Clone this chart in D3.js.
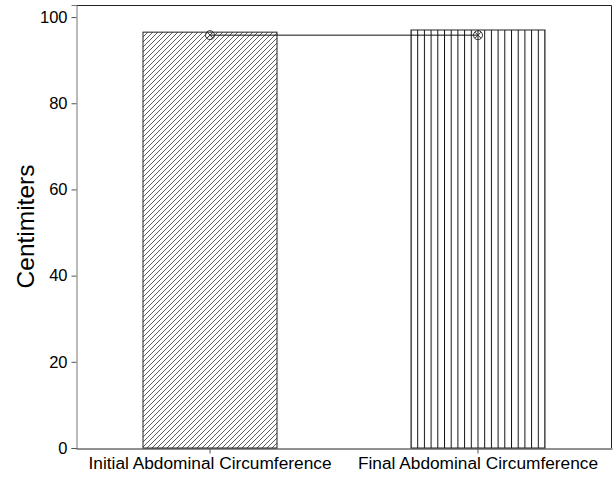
<!DOCTYPE html>
<html>
<head>
<meta charset="utf-8">
<script src="https://cdn.jsdelivr.net/npm/d3@7"></script>
<style>
  body { margin: 0; background: #fff; }
  text { font-family: "Liberation Sans", Arial, sans-serif; }
</style>
</head>
<body>
<svg id="chart"></svg>
<script>
// Chart values
const categories = ["Initial Abdominal Circumference", "Final Abdominal Circumference"];
const barValues = [96.5, 97.0];
const meanValues = [95.8, 95.8];
const yTicks = [0, 20, 40, 60, 80, 100];
const yLabel = "Centimiters";

const width = 614;
const height = 477;
const margin = { top: 5, right: 2, bottom: 29, left: 76 };

const svg = d3.select("#chart")
    .attr("width", width)
    .attr("height", height);

// Hatch patterns
const defs = svg.append("defs");
defs.append("pattern")
    .attr("id", "diag")
    .attr("patternUnits", "userSpaceOnUse")
    .attr("width", 5)
    .attr("height", 5)
  .append("path")
    .attr("d", "M-1,1 L1,-1 M0,5 L5,0 M4,6 L6,4")
    .attr("stroke", "#333")
    .attr("stroke-width", 0.8);

defs.append("pattern")
    .attr("id", "vert")
    .attr("patternUnits", "userSpaceOnUse")
    .attr("x", 410.5)
    .attr("width", 6.7)
    .attr("height", 10)
  .append("line")
    .attr("x1", 0.5).attr("x2", 0.5)
    .attr("y1", 0).attr("y2", 10)
    .attr("stroke", "#111")
    .attr("stroke-width", 1);

const x = d3.scaleBand()
    .domain(categories)
    .range([margin.left, width - margin.right])
    .paddingInner(0.5)
    .paddingOuter(0.25);

const y = d3.scaleLinear()
    .domain([0, 102.8])
    .range([height - margin.bottom, margin.top]);

// Bars
svg.selectAll("rect.bar")
    .data(categories)
    .enter()
    .append("rect")
    .attr("class", "bar")
    .attr("x", d => x(d))
    .attr("y", (d, i) => y(barValues[i]))
    .attr("width", x.bandwidth())
    .attr("height", (d, i) => y(0) - y(barValues[i]))
    .attr("fill", (d, i) => i === 0 ? "url(#diag)" : "url(#vert)")
    .attr("stroke", "#222")
    .attr("stroke-width", 1);

// Frame (top and right)
svg.append("path")
    .attr("d", `M${margin.left},${margin.top + 0.5} H${width - margin.right - 0.5} V${height - margin.bottom}`)
    .attr("fill", "none")
    .attr("stroke", "#222")
    .attr("stroke-width", 1);

// Y axis
const yAxis = svg.append("g")
    .attr("transform", `translate(${margin.left + 0.5},0)`)
    .call(d3.axisLeft(y).tickValues(yTicks).tickSize(5).tickPadding(4));
yAxis.select(".domain").attr("stroke", "#777");
yAxis.selectAll(".tick line").attr("stroke", "#555");
yAxis.selectAll("text").style("font-size", "16.5px").attr("fill", "#000");

// X axis
const xAxis = svg.append("g")
    .attr("transform", `translate(0,${height - margin.bottom + 0.5})`)
    .call(d3.axisBottom(x).tickSize(5).tickSizeOuter(0).tickPadding(3));
xAxis.select(".domain").attr("stroke", "#222");
xAxis.selectAll(".tick line").attr("stroke", "#555");
xAxis.selectAll("text").style("font-size", "17.3px").attr("fill", "#000");

// Y label
svg.append("text")
    .attr("transform", `translate(34,${(margin.top + height - margin.bottom) / 2}) rotate(-90)`)
    .attr("text-anchor", "middle")
    .style("font-size", "24.5px")
    .attr("fill", "#000")
    .text(yLabel);

// Mean line and markers
const cx = d => x(d) + x.bandwidth() / 2;
svg.append("path")
    .datum(categories)
    .attr("d", d3.line().x(d => cx(d)).y((d, i) => y(meanValues[i])))
    .attr("fill", "none")
    .attr("stroke", "#111")
    .attr("stroke-width", 1);

const markers = svg.selectAll("g.marker")
    .data(categories)
    .enter()
    .append("g")
    .attr("class", "marker")
    .attr("transform", (d, i) => `translate(${cx(d)},${y(meanValues[i])})`);
markers.append("circle")
    .attr("r", 4.5)
    .attr("fill", "none")
    .attr("stroke", "#333")
    .attr("stroke-width", 1);
markers.append("path")
    .attr("d", "M-3,-3 L3,3 M-3,3 L3,-3")
    .attr("stroke", "#333")
    .attr("stroke-width", 1);
</script>
</body>
</html>
